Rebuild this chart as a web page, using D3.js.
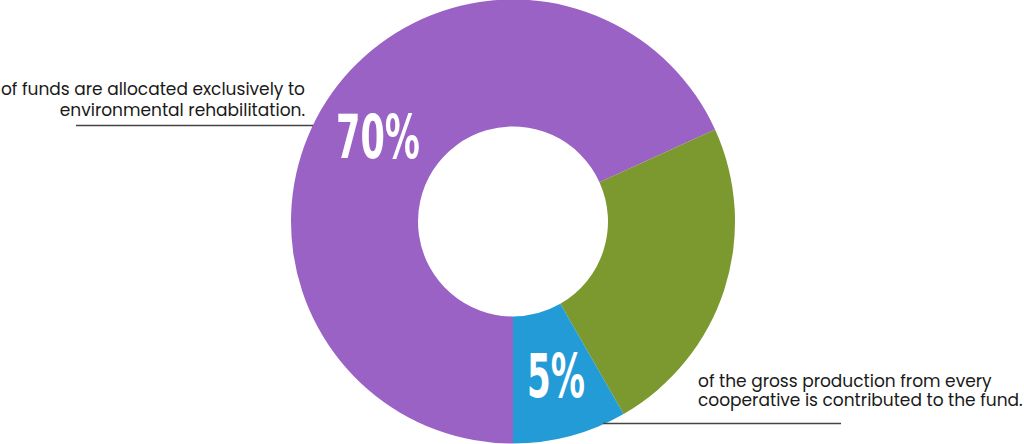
<!DOCTYPE html>
<html><head><meta charset="utf-8">
<script src="https://cdn.jsdelivr.net/npm/d3@7"></script>
<style>
html,body{margin:0;padding:0;background:#fff;}
svg{display:block;}
</style></head>
<body>
<svg id="chart" width="1024" height="444"></svg>
<script>
const categories = ["Environmental rehabilitation", "Other", "Gross production contribution"];
const values = [68.2, 23.5, 8.3];
const colors = ["#9B62C6", "#7B992E", "#239BD7"];
const bigLabels = ["70%", null, "5%"];
const noteLines = [
  ["of funds are allocated exclusively to", "environmental rehabilitation."],
  null,
  ["of the gross production from every", "cooperative is contributed to the fund."]
];

const svg = d3.select("#chart");
const cx = 513, cy = 221.5, rOuter = 222, rInner = 95;
const g = svg.append("g").attr("transform", `translate(${cx},${cy})`);

const pie = d3.pie().sort(null).value(d => d).startAngle(Math.PI).endAngle(3 * Math.PI);
const arcs = pie(values);
const arc = d3.arc().innerRadius(rInner).outerRadius(rOuter);

g.selectAll("path.slice").data(arcs).join("path")
  .attr("class", "slice")
  .attr("d", arc)
  .attr("fill", (d, i) => colors[i]);

// big percentage labels (condensed look)
const labelPos = [[378, 137], null, [556, 376]];
const labelWidth = [84, null, 58];
bigLabels.forEach((t, i) => {
  if (!t) return;
  const grp = svg.append("g").attr("transform", `translate(${labelPos[i][0]},${labelPos[i][1]})`);
  const txt = grp.append("text")
    .attr("x", 0).attr("y", 0)
    .attr("text-anchor", "middle").attr("dominant-baseline", "central")
    .attr("font-family", "'DejaVu Sans Condensed','DejaVu Sans',sans-serif")
    .attr("font-weight", "bold").attr("font-size", 60)
    .attr("fill", "#fff").text(t);
  const w = txt.node().getBBox().width;
  txt.attr("transform", `scale(${labelWidth[i] / w},1)`);
});

// annotations
const noteFont = "Poppins,'Open Sans','Noto Sans',sans-serif";
noteLines[0].forEach((l, j) => svg.append("text")
  .attr("font-family", noteFont).attr("font-size", 17).attr("fill", "#1a1a1a").attr("text-anchor", "end")
  .attr("x", 305).attr("y", 95 + j * 21).text(l));
svg.append("line").attr("x1", 76).attr("x2", 313).attr("y1", 125.5).attr("y2", 125.5).attr("stroke", "#444").attr("stroke-width", 1.3);

noteLines[2].forEach((l, j) => svg.append("text")
  .attr("font-family", noteFont).attr("font-size", 17).attr("fill", "#1a1a1a").attr("text-anchor", "start")
  .attr("x", 698).attr("y", 386.5 + j * 19.5).text(l));
svg.append("line").attr("x1", 603).attr("x2", 841).attr("y1", 423.5).attr("y2", 423.5).attr("stroke", "#444").attr("stroke-width", 1.3);
</script>
</body></html>
